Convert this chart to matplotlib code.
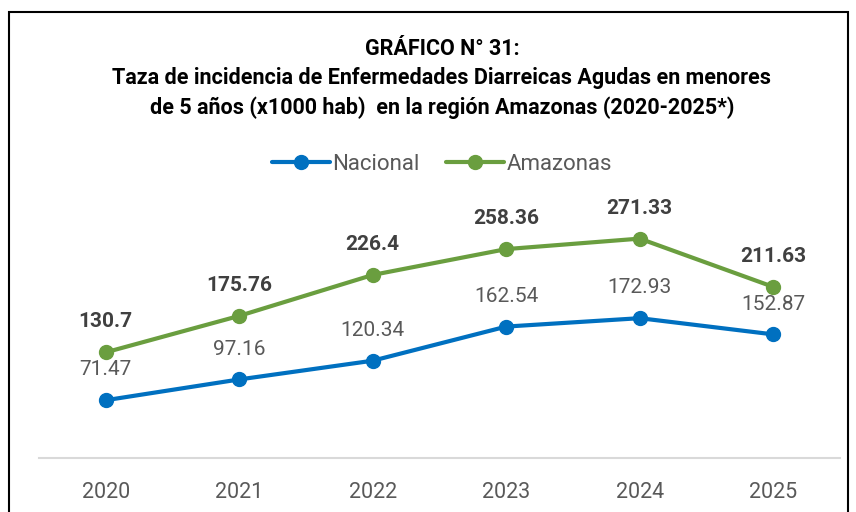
import matplotlib
matplotlib.use("Agg")
import matplotlib.pyplot as plt
from matplotlib.patches import Rectangle

years = ["2020", "2021", "2022", "2023", "2024", "2025"]
nacional = [71.47, 97.16, 120.34, 162.54, 172.93, 152.87]
amazonas = [130.7, 175.76, 226.4, 258.36, 271.33, 211.63]
nacional_labels = ["71.47", "97.16", "120.34", "162.54", "172.93", "152.87"]
amazonas_labels = ["130.7", "175.76", "226.4", "258.36", "271.33", "211.63"]

title = ("GRÁFICO N° 31:\n"
         "Taza de incidencia de Enfermedades Diarreicas Agudas en menores\n"
         "de 5 años (x1000 hab)  en la región Amazonas (2020-2025*)")

plt.rcParams["font.family"] = ["Roboto", "DejaVu Sans"]

W, H = 856, 512
fig = plt.figure(figsize=(W / 100, H / 100), dpi=100)

# outer frame around the chart
fig.patches.append(Rectangle((9 / W, -0.05), (848 - 9) / W, 1.05 - 12 / H,
                             transform=fig.transFigure, fill=False,
                             edgecolor="black", linewidth=1.5))

ax = fig.add_axes([39 / W, (H - 458) / H, (840 - 39) / W, (458 - 175) / H])
x = list(range(len(years)))

blue = "#0070C0"
green = "#6A9E3F"
ax.plot(x, nacional, color=blue, lw=3, marker="o", ms=10, label="Nacional",
        solid_capstyle="round")
ax.plot(x, amazonas, color=green, lw=3, marker="o", ms=10, label="Amazonas",
        solid_capstyle="round")

for i in x:
    ax.annotate(nacional_labels[i], (i, nacional[i]), xytext=(0, 15),
                textcoords="offset points", ha="center", va="bottom",
                fontsize=15, color="#595959")
    ax.annotate(amazonas_labels[i], (i, amazonas[i]), xytext=(0, 15),
                textcoords="offset points", ha="center", va="bottom",
                fontsize=15, color="#404040", fontweight="bold")

ax.set_xlim(-0.5, len(years) - 0.5)
ax.set_ylim(0, 350)
ax.set_xticks(x)
ax.set_xticklabels(years, fontsize=15.5, color="#595959")
ax.tick_params(axis="x", length=0, pad=17)
ax.set_yticks([])
for side in ["top", "right", "left"]:
    ax.spines[side].set_visible(False)
ax.spines["bottom"].set_color("#D9D9D9")
ax.spines["bottom"].set_linewidth(1.5)

fig.text(442 / W, 1 - 38 / H, title, ha="center", va="top", fontsize=15.5,
         fontweight="bold", color="black", linespacing=1.43)

fig.legend(loc="center", bbox_to_anchor=(442 / W, 1 - 164 / H), ncol=2,
           frameon=False, fontsize=16, labelcolor="#595959",
           handlelength=2.6, handletextpad=0.1, columnspacing=1.2)

fig.savefig("out.png", dpi=100)
